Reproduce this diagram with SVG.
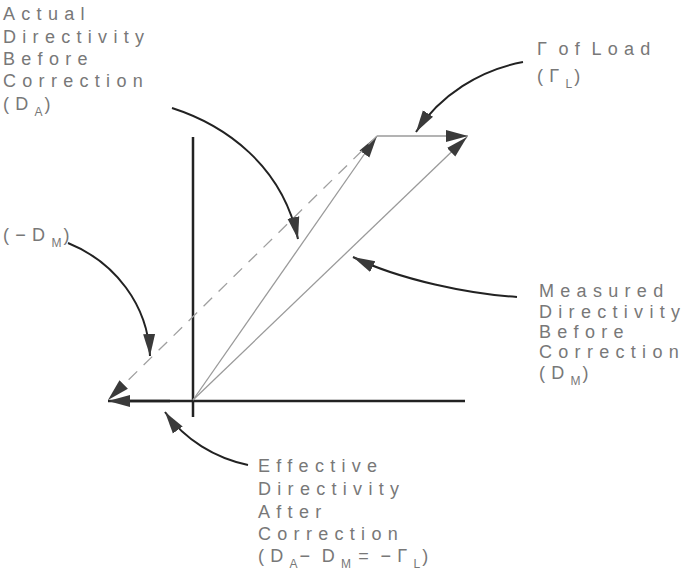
<svg xmlns="http://www.w3.org/2000/svg" width="686" height="570" viewBox="0 0 686 570">
<defs>
<style>
.lbl{font-family:"Liberation Sans",Arial,sans-serif;font-size:18px;fill:#787878;letter-spacing:6.3px;word-spacing:-6px}
.sub{font-size:12px;letter-spacing:2px}
.axis{stroke:#222;stroke-width:2.5;fill:none}
.vec{stroke:#9a9a9a;stroke-width:1.3;fill:none}
.dash{stroke:#a0a0a0;stroke-width:1.3;fill:none;stroke-dasharray:12 9}
.ptr{stroke:#222;stroke-width:2;fill:none}
</style>
<marker id="ah" markerUnits="userSpaceOnUse" markerWidth="24" markerHeight="14" refX="22" refY="7" orient="auto" viewBox="0 0 24 14">
<path d="M0,1 L22,7 L0,13 Z" fill="#3a3a3a"/>
</marker>
</defs>
<rect width="686" height="570" fill="#fff"/>
<g id="connectors">
<line id="axis-y" class="axis" x1="193" y1="137" x2="193" y2="417"/>
<line id="axis-x" class="axis" x1="130" y1="401" x2="465" y2="401" stroke-width="2"/>
<line id="eff-arrow" class="axis" x1="170" y1="401" x2="108" y2="401" stroke-width="2" marker-end="url(#ah)"/>
<line id="vec-da" class="vec" x1="193" y1="400" x2="377" y2="136" marker-end="url(#ah)"/>
<line id="vec-dm" class="vec" x1="193" y1="400" x2="467" y2="137" marker-end="url(#ah)"/>
<line id="vec-gl" class="vec" x1="377" y1="136" x2="468" y2="136" stroke-width="1.6" marker-end="url(#ah)"/>
<line id="vec-neg-dm" class="dash" x1="377" y1="136" x2="108" y2="400" marker-end="url(#ah)"/>
<path id="ptr-da" class="ptr" d="M172,108 C225,125 282,165 298,239" marker-end="url(#ah)"/>
<path id="ptr-gl" class="ptr" d="M523,62 C480,70 440,95 416,132" marker-end="url(#ah)"/>
<path id="ptr-neg-dm" class="ptr" d="M68,243 C115,262 148,305 150,356" marker-end="url(#ah)"/>
<path id="ptr-dm" class="ptr" d="M517,297 C470,294 400,280 353,257" marker-end="url(#ah)"/>
<path id="ptr-eff" class="ptr" d="M248,465 C215,458 185,440 165,412" marker-end="url(#ah)"/>
</g>
<g id="label-da">
<text class="lbl" x="3" y="20">Actual</text>
<text class="lbl" x="3" y="43">Directivity</text>
<text class="lbl" x="3" y="65">Before</text>
<text class="lbl" x="3" y="87">Correction</text>
<text class="lbl" x="3" y="110">(D<tspan class="sub" dy="6">A</tspan><tspan dy="-6">)</tspan></text>
</g>
<g id="label-gl">
<text class="lbl" x="537" y="55">Γ of Load</text>
<text class="lbl" x="537" y="82">(Γ<tspan class="sub" dy="6">L</tspan><tspan dy="-6">)</tspan></text>
</g>
<g id="label-neg-dm">
<text class="lbl" x="3" y="241">(−D<tspan class="sub" dy="6">M</tspan><tspan dy="-6">)</tspan></text>
</g>
<g id="label-dm">
<text class="lbl" x="539" y="297">Measured</text>
<text class="lbl" x="539" y="318">Directivity</text>
<text class="lbl" x="539" y="338">Before</text>
<text class="lbl" x="539" y="358">Correction</text>
<text class="lbl" x="539" y="379">(D<tspan class="sub" dy="6">M</tspan><tspan dy="-6">)</tspan></text>
</g>
<g id="label-eff">
<text class="lbl" x="258" y="472">Effective</text>
<text class="lbl" x="258" y="495">Directivity</text>
<text class="lbl" x="258" y="518">After</text>
<text class="lbl" x="258" y="540">Correction</text>
<text class="lbl" x="258" y="562">(D<tspan class="sub" dy="6">A</tspan><tspan dy="-6">− D</tspan><tspan class="sub" dy="6">M</tspan><tspan dy="-6"> = −Γ</tspan><tspan class="sub" dy="6">L</tspan><tspan dy="-6">)</tspan></text>
</g>
</svg>
